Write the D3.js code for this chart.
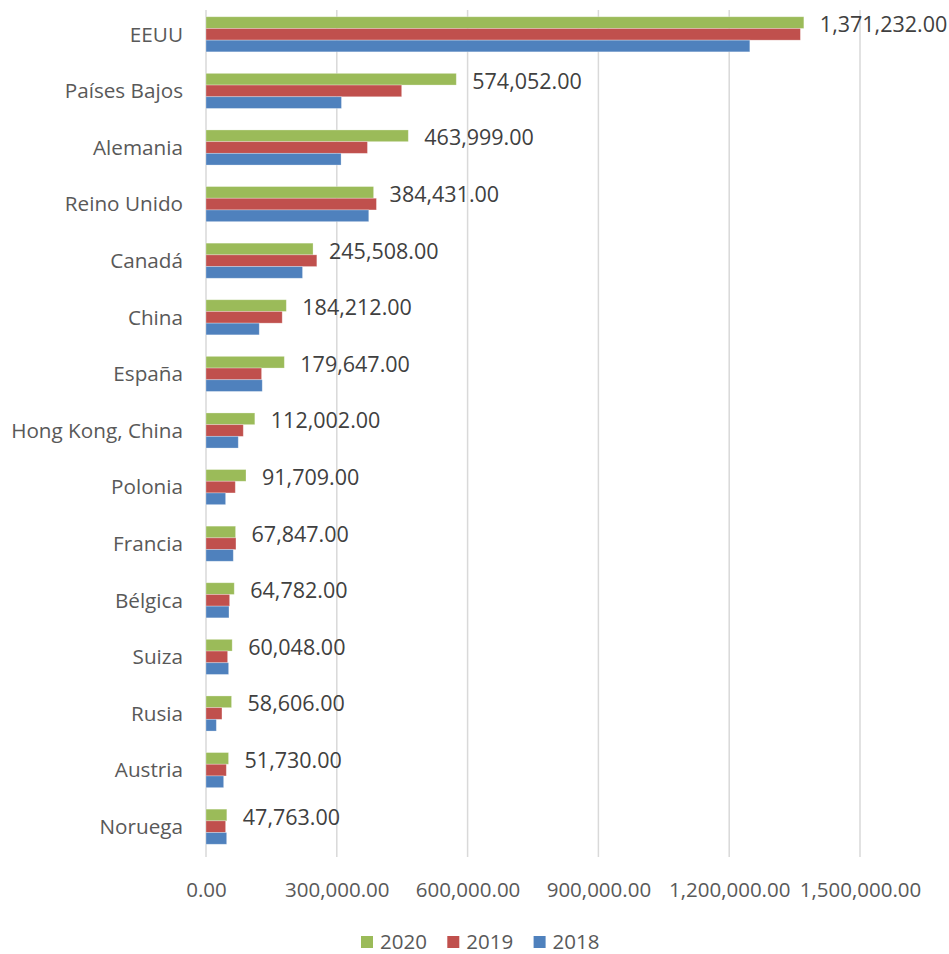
<!DOCTYPE html>
<html>
<head>
<meta charset="utf-8">
<script src="https://cdn.jsdelivr.net/npm/d3@7"></script>
<style>
  body { margin: 0; background: #fff; }
  .cat { font-family: "Open Sans", sans-serif; font-size: 20.7px; fill: #595959; }
  .val { font-family: "Open Sans", sans-serif; font-size: 21.5px; fill: #404040; }
  .tick text { font-family: "Open Sans", sans-serif; font-size: 20.5px; fill: #595959; }
  .legend text { font-family: "Open Sans", sans-serif; font-size: 20.5px; fill: #595959; }
</style>
</head>
<body>
<svg id="chart"></svg>
<script>
// Categories (top to bottom)
var countries = ['EEUU', 'Países Bajos', 'Alemania', 'Reino Unido', 'Canadá', 'China', 'España',
  'Hong Kong, China', 'Polonia', 'Francia', 'Bélgica', 'Suiza', 'Rusia', 'Austria', 'Noruega'];

// Series values
var values2020 = [1371232, 574052, 463999, 384431, 245508, 184212, 179647, 112002, 91709, 67847, 64782, 60048, 58606, 51730, 47763];
var values2019 = [1363300, 448800, 370300, 390900, 254200, 174800, 127500, 85500, 67200, 68700, 54200, 49600, 36600, 46600, 45000];
var values2018 = [1247300, 310700, 309800, 373300, 221400, 122100, 129000, 74000, 45000, 62600, 52700, 51900, 23700, 40500, 47400];

var years = ['2020', '2019', '2018'];
var xTicks = [0, 300000, 600000, 900000, 1200000, 1500000];

var colors = { '2020': '#9BBB59', '2019': '#C0504D', '2018': '#4F81BD' };

// Canvas size
var canvasWidth = 949;
var canvasHeight = 954;
var margin = { top: 6, right: 89, bottom: 99, left: 206 };

var svg = d3.select('#chart')
  .attr('width', canvasWidth)
  .attr('height', canvasHeight);

var rows = countries.map(function(c, i) {
  return { country: c, '2020': values2020[i], '2019': values2019[i], '2018': values2018[i] };
});

// Scales
var xScale = d3.scaleLinear()
  .domain([0, 1500000])
  .range([margin.left, canvasWidth - margin.right]);

var yScale = d3.scaleBand()
  .domain(countries)
  .range([margin.top, canvasHeight - margin.bottom])
  .paddingInner(0.38)
  .paddingOuter(0.19);

var subScale = d3.scaleBand()
  .domain(years)
  .range([0, yScale.bandwidth()]);

// Gridlines
svg.append('g')
  .selectAll('line')
  .data(xTicks)
  .enter()
  .append('line')
  .attr('x1', function(d) { return xScale(d); })
  .attr('x2', function(d) { return xScale(d); })
  .attr('y1', margin.top + 4)
  .attr('y2', canvasHeight - margin.bottom + 2)
  .attr('stroke', '#d9d9d9')
  .attr('stroke-width', 1.5);

// Bars
var groups = svg.append('g')
  .selectAll('.group')
  .data(rows)
  .enter()
  .append('g')
  .attr('transform', function(d) { return 'translate(0,' + yScale(d.country) + ')'; });

groups.selectAll('rect')
  .data(function(d) {
    return years.map(function(y) { return { year: y, value: d[y] }; });
  })
  .enter()
  .append('rect')
  .attr('x', xScale(0))
  .attr('y', function(d) { return subScale(d.year); })
  .attr('width', function(d) { return xScale(d.value) - xScale(0); })
  .attr('height', subScale.bandwidth())
  .attr('fill', function(d) { return colors[d.year]; })
  .attr('stroke', 'rgba(255,255,255,0.35)')
  .attr('stroke-width', 0.8);

// Data labels (2020)
groups.append('text')
  .attr('class', 'val')
  .attr('x', function(d) { return xScale(d['2020']) + 16; })
  .attr('y', subScale('2020') + subScale.bandwidth() / 2 + 2)
  .attr('dy', '0.35em')
  .text(function(d) { return d3.format(',.2f')(d['2020']); });

// Category labels
svg.append('g')
  .selectAll('text')
  .data(countries)
  .enter()
  .append('text')
  .attr('class', 'cat')
  .attr('x', 183)
  .attr('y', function(d) { return yScale(d) + yScale.bandwidth() / 2; })
  .attr('dy', '0.35em')
  .attr('text-anchor', 'end')
  .text(function(d) { return d; });

// X axis
var xAxis = d3.axisBottom(xScale)
  .tickValues(xTicks)
  .tickSize(0)
  .tickPadding(0)
  .tickFormat(d3.format(',.2f'));

var axisG = svg.append('g')
  .attr('transform', 'translate(0,' + (canvasHeight - margin.bottom) + ')')
  .call(xAxis);
axisG.select('.domain').remove();
axisG.selectAll('.tick text').attr('y', 35).attr('dy', '0.35em');

// Legend
var legend = svg.append('g')
  .attr('class', 'legend')
  .selectAll('g')
  .data(years)
  .enter()
  .append('g')
  .attr('transform', function(d, i) { return 'translate(' + (361 + i * 86.3) + ',936)'; });

legend.append('rect')
  .attr('width', 12)
  .attr('height', 12)
  .attr('fill', function(d) { return colors[d]; });

legend.append('text')
  .attr('x', 19)
  .attr('y', 6)
  .attr('dy', '0.35em')
  .text(function(d) { return d; });
</script>
</body>
</html>
